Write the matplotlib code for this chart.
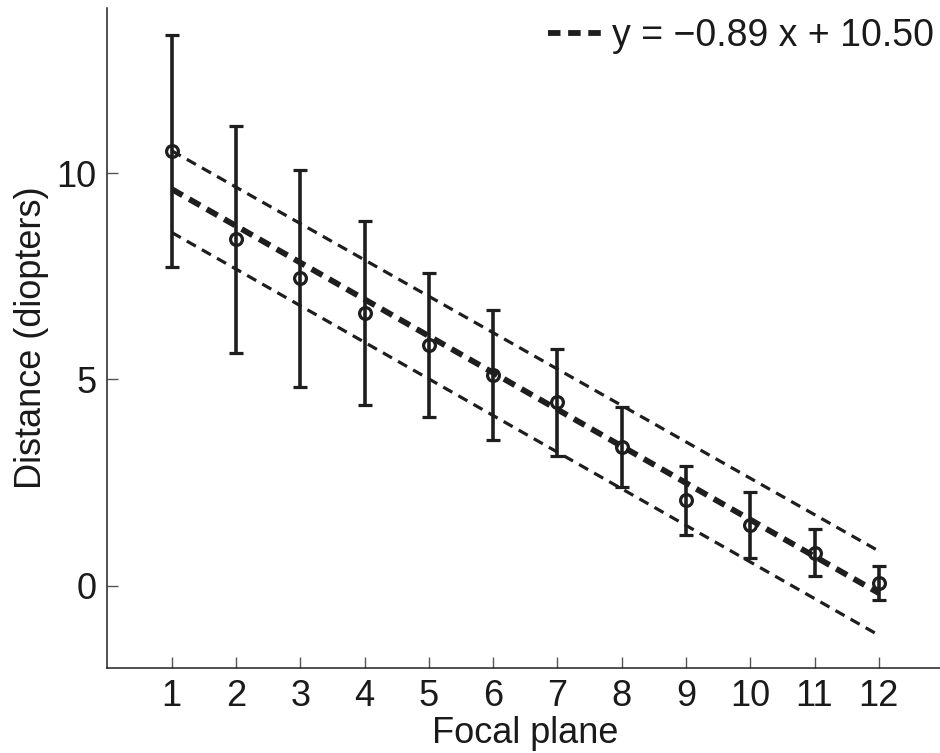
import matplotlib
matplotlib.use("Agg")
import matplotlib.pyplot as plt
import numpy as np

plt.rcParams['font.family'] = ['Liberation Sans', 'DejaVu Sans']
plt.rcParams['lines.scale_dashes'] = False

focal_plane = [1, 2, 3, 4, 5, 6, 7, 8, 9, 10, 11, 12]
mean_distance = [10.54, 8.39, 7.45, 6.61, 5.83, 5.10, 4.44, 3.36, 2.07, 1.47, 0.80, 0.06]
err_distance = [2.81, 2.75, 2.63, 2.22, 1.75, 1.57, 1.30, 0.96, 0.84, 0.80, 0.57, 0.41]
fit_x = [1, 12]
fit_y = [9.61, -0.18]
upper_y = [10.54, 0.84]
lower_y = [8.56, -1.20]
xticks = [1, 2, 3, 4, 5, 6, 7, 8, 9, 10, 11, 12]
yticks = [0, 5, 10]
legend_label = "y = \u22120.89 x + 10.50"

col = '#1e1e1e'
fig = plt.figure(figsize=(9.4, 7.53), dpi=100)
ax = fig.add_axes([0.1143, 0.1126, 0.889, 0.8768])

ax.plot(fit_x, upper_y, color=col, lw=2.3, dashes=(7.5, 5), zorder=2)
ax.plot(fit_x, lower_y, color=col, lw=2.3, dashes=(7.5, 5), zorder=2)
fit_line, = ax.plot(fit_x, fit_y, color=col, lw=4.2, dashes=(9, 5.5), zorder=2,
                    label=legend_label)
ax.errorbar(focal_plane, mean_distance, yerr=err_distance, fmt='o', color=col,
            ecolor=col, elinewidth=2.6, capsize=5, capthick=2.6,
            mfc='none', mec=col, ms=8.5, mew=2.3, zorder=3)

ax.set_xlim(0, 13)
ax.set_ylim(-2, 14)
ax.set_xticks(xticks)
ax.set_yticks(yticks)
ax.tick_params(direction='in', length=8, width=1, colors='#555555',
               labelcolor='#1a1a1a', labelsize=26, pad=8)
for s in ['top', 'right']:
    ax.spines[s].set_visible(False)
for s in ['left', 'bottom']:
    ax.spines[s].set_linewidth(1.1)
    ax.spines[s].set_color('#222222')

ax.set_xlabel('Focal plane', fontsize=26, color='#1a1a1a', labelpad=1)
ax.set_ylabel('Distance (diopters)', fontsize=26, color='#1a1a1a', labelpad=5)

leg = fig.legend(handles=[fit_line], loc='upper right',
                 bbox_to_anchor=(934 / 940, 1 - 18 / 753), frameon=False,
                 fontsize=27, handlelength=1.6, handletextpad=0.1,
                 borderpad=0, borderaxespad=0)
for t in leg.get_texts():
    t.set_color('#1a1a1a')

fig.savefig('out.png', dpi=100)
